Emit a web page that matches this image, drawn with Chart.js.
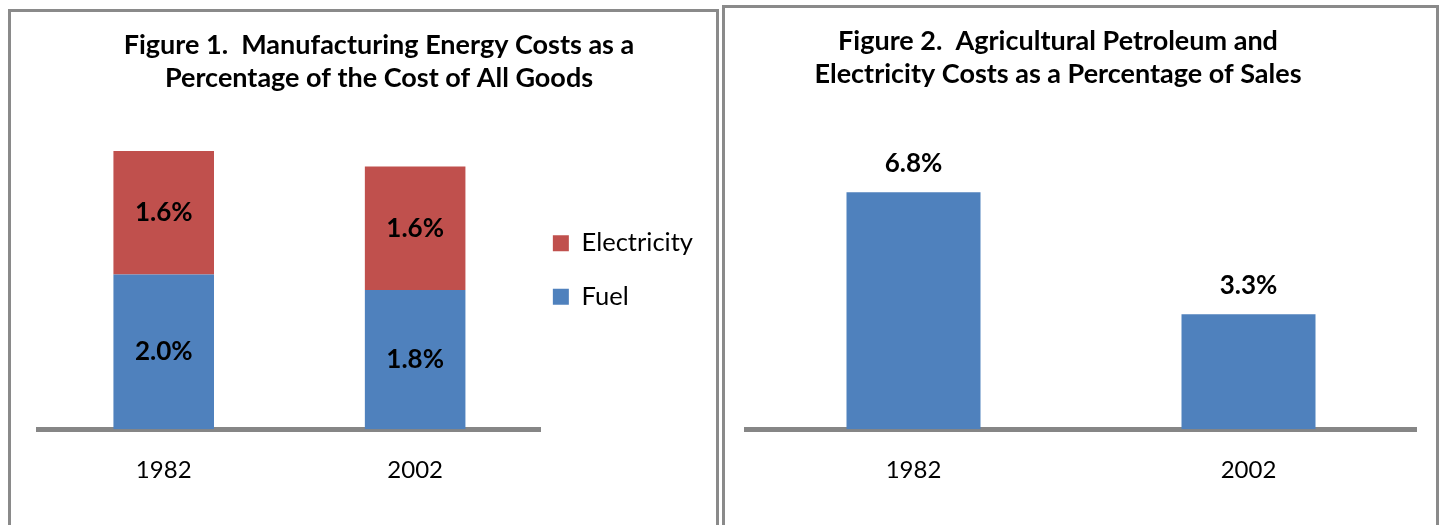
<!DOCTYPE html>
<html><head><meta charset="utf-8">
<script src="https://cdn.jsdelivr.net/npm/chart.js@4.4.1/dist/chart.umd.min.js"></script>
<style>
html,body{margin:0;padding:0;background:#fff;overflow:hidden;width:1444px;height:525px;}
.box{position:absolute;border:3px solid #8a8a8a;border-bottom:none;box-sizing:border-box;}
#b1{left:8px;top:9px;width:711px;height:540px;}
#b2{left:722px;top:5px;width:717px;height:540px;}
canvas{position:absolute;}
#c1{left:11px;top:12px;}
#c2{left:725px;top:8px;}
</style>
</head><body>
<div class="box" id="b1"></div>
<div class="box" id="b2"></div>
<canvas id="c1" width="708" height="513"></canvas>
<canvas id="c2" width="711" height="517"></canvas>
<script>
const categories = ['1982', '2002'];
const fuelValues = [2.0, 1.8];
const electricityValues = [1.6, 1.6];
const agValues = [6.8, 3.3];
const fig1Title = ['Figure 1.  Manufacturing Energy Costs as a', 'Percentage of the Cost of All Goods'];
const fig2Title = ['Figure 2.  Agricultural Petroleum and', 'Electricity Costs as a Percentage of Sales'];

const FONT = 'Lato';
const BLUE = '#4F81BD';
const RED = '#C0504D';
const AXIS = '#868686';

const nudge = {
  id: 'nudge',
  afterLayout(chart, args, opts) {
    if (opts.titleDx && chart.titleBlock) {
      chart.titleBlock.left += opts.titleDx; chart.titleBlock.right += opts.titleDx;
    }
    if (chart.legend && chart.options.plugins.legend.display !== false) {
      const dx = opts.legendDx || 0, dy = opts.legendDy || 0;
      chart.legend.left += dx; chart.legend.right += dx;
      chart.legend.top += dy; chart.legend.bottom += dy;
    }
  }
};

const valueLabels = {
  id: 'valueLabels',
  afterDatasetsDraw(chart, args, opts) {
    const ctx = chart.ctx;
    ctx.save();
    ctx.font = 'bold ' + opts.size + 'px ' + FONT;
    ctx.fillStyle = '#000';
    ctx.textAlign = 'center';
    ctx.textBaseline = 'middle';
    chart.data.datasets.forEach((ds, i) => {
      const meta = chart.getDatasetMeta(i);
      meta.data.forEach((bar, j) => {
        const text = ds.data[j].toFixed(1) + '%';
        const y = opts.mode === 'center' ? (bar.y + bar.base) / 2 : bar.y - opts.offset;
        ctx.fillText(text, bar.x, y);
      });
    });
    ctx.restore();
  }
};

function xScale() {
  return {
    stacked: true,
    grid: { display: false, drawTicks: false, tickLength: 0 },
    border: { display: true, color: AXIS, width: 5 },
    ticks: { color: '#000', padding: 27, font: { family: FONT, size: 24, lineHeight: 1.2 } }
  };
}

const titleFont = { family: FONT, size: 27, weight: 'bold', lineHeight: 33 / 27 };

new Chart(document.getElementById('c1'), {
  type: 'bar',
  data: {
    labels: categories,
    datasets: [
      { label: 'Fuel', data: fuelValues, backgroundColor: BLUE, barPercentage: 0.4, categoryPercentage: 1 },
      { label: 'Electricity', data: electricityValues, backgroundColor: RED, barPercentage: 0.4, categoryPercentage: 1 }
    ]
  },
  plugins: [nudge, valueLabels],
  options: {
    responsive: false,
    animation: false,
    layout: { padding: { left: 27, right: 0, top: 0, bottom: 13 } },
    scales: {
      x: xScale(),
      y: { display: false, stacked: true, min: 0, max: 4 }
    },
    plugins: {
      tooltip: { enabled: false },
      title: {
        display: true, text: fig1Title, color: '#000',
        font: titleFont,
        padding: { top: 16.5, bottom: 25.5 }
      },
      legend: {
        display: true, position: 'right', reverse: true,
        labels: { color: '#000', boxWidth: 16, boxHeight: 16, padding: 28, font: { family: FONT, size: 25.5 } }
      },
      nudge: { titleDx: 0.5, legendDx: -16, legendDy: 8 },
      valueLabels: { mode: 'center', size: 26 }
    }
  }
});

new Chart(document.getElementById('c2'), {
  type: 'bar',
  data: {
    labels: categories,
    datasets: [
      { label: 'Petroleum and Electricity', data: agValues, backgroundColor: BLUE, barPercentage: 0.4, categoryPercentage: 1 }
    ]
  },
  plugins: [nudge, valueLabels],
  options: {
    responsive: false,
    animation: false,
    layout: { padding: { left: 21, right: 20, top: 0, bottom: 13 } },
    scales: {
      x: xScale(),
      y: { display: false, min: 0, max: 8 }
    },
    plugins: {
      tooltip: { enabled: false },
      title: {
        display: true, text: fig2Title, color: '#000',
        font: titleFont,
        padding: { top: 16.5, bottom: 59.9 }
      },
      legend: { display: false },
      nudge: { titleDx: -23 },
      valueLabels: { mode: 'above', offset: 29, size: 26 }
    }
  }
});
</script>
</body></html>
